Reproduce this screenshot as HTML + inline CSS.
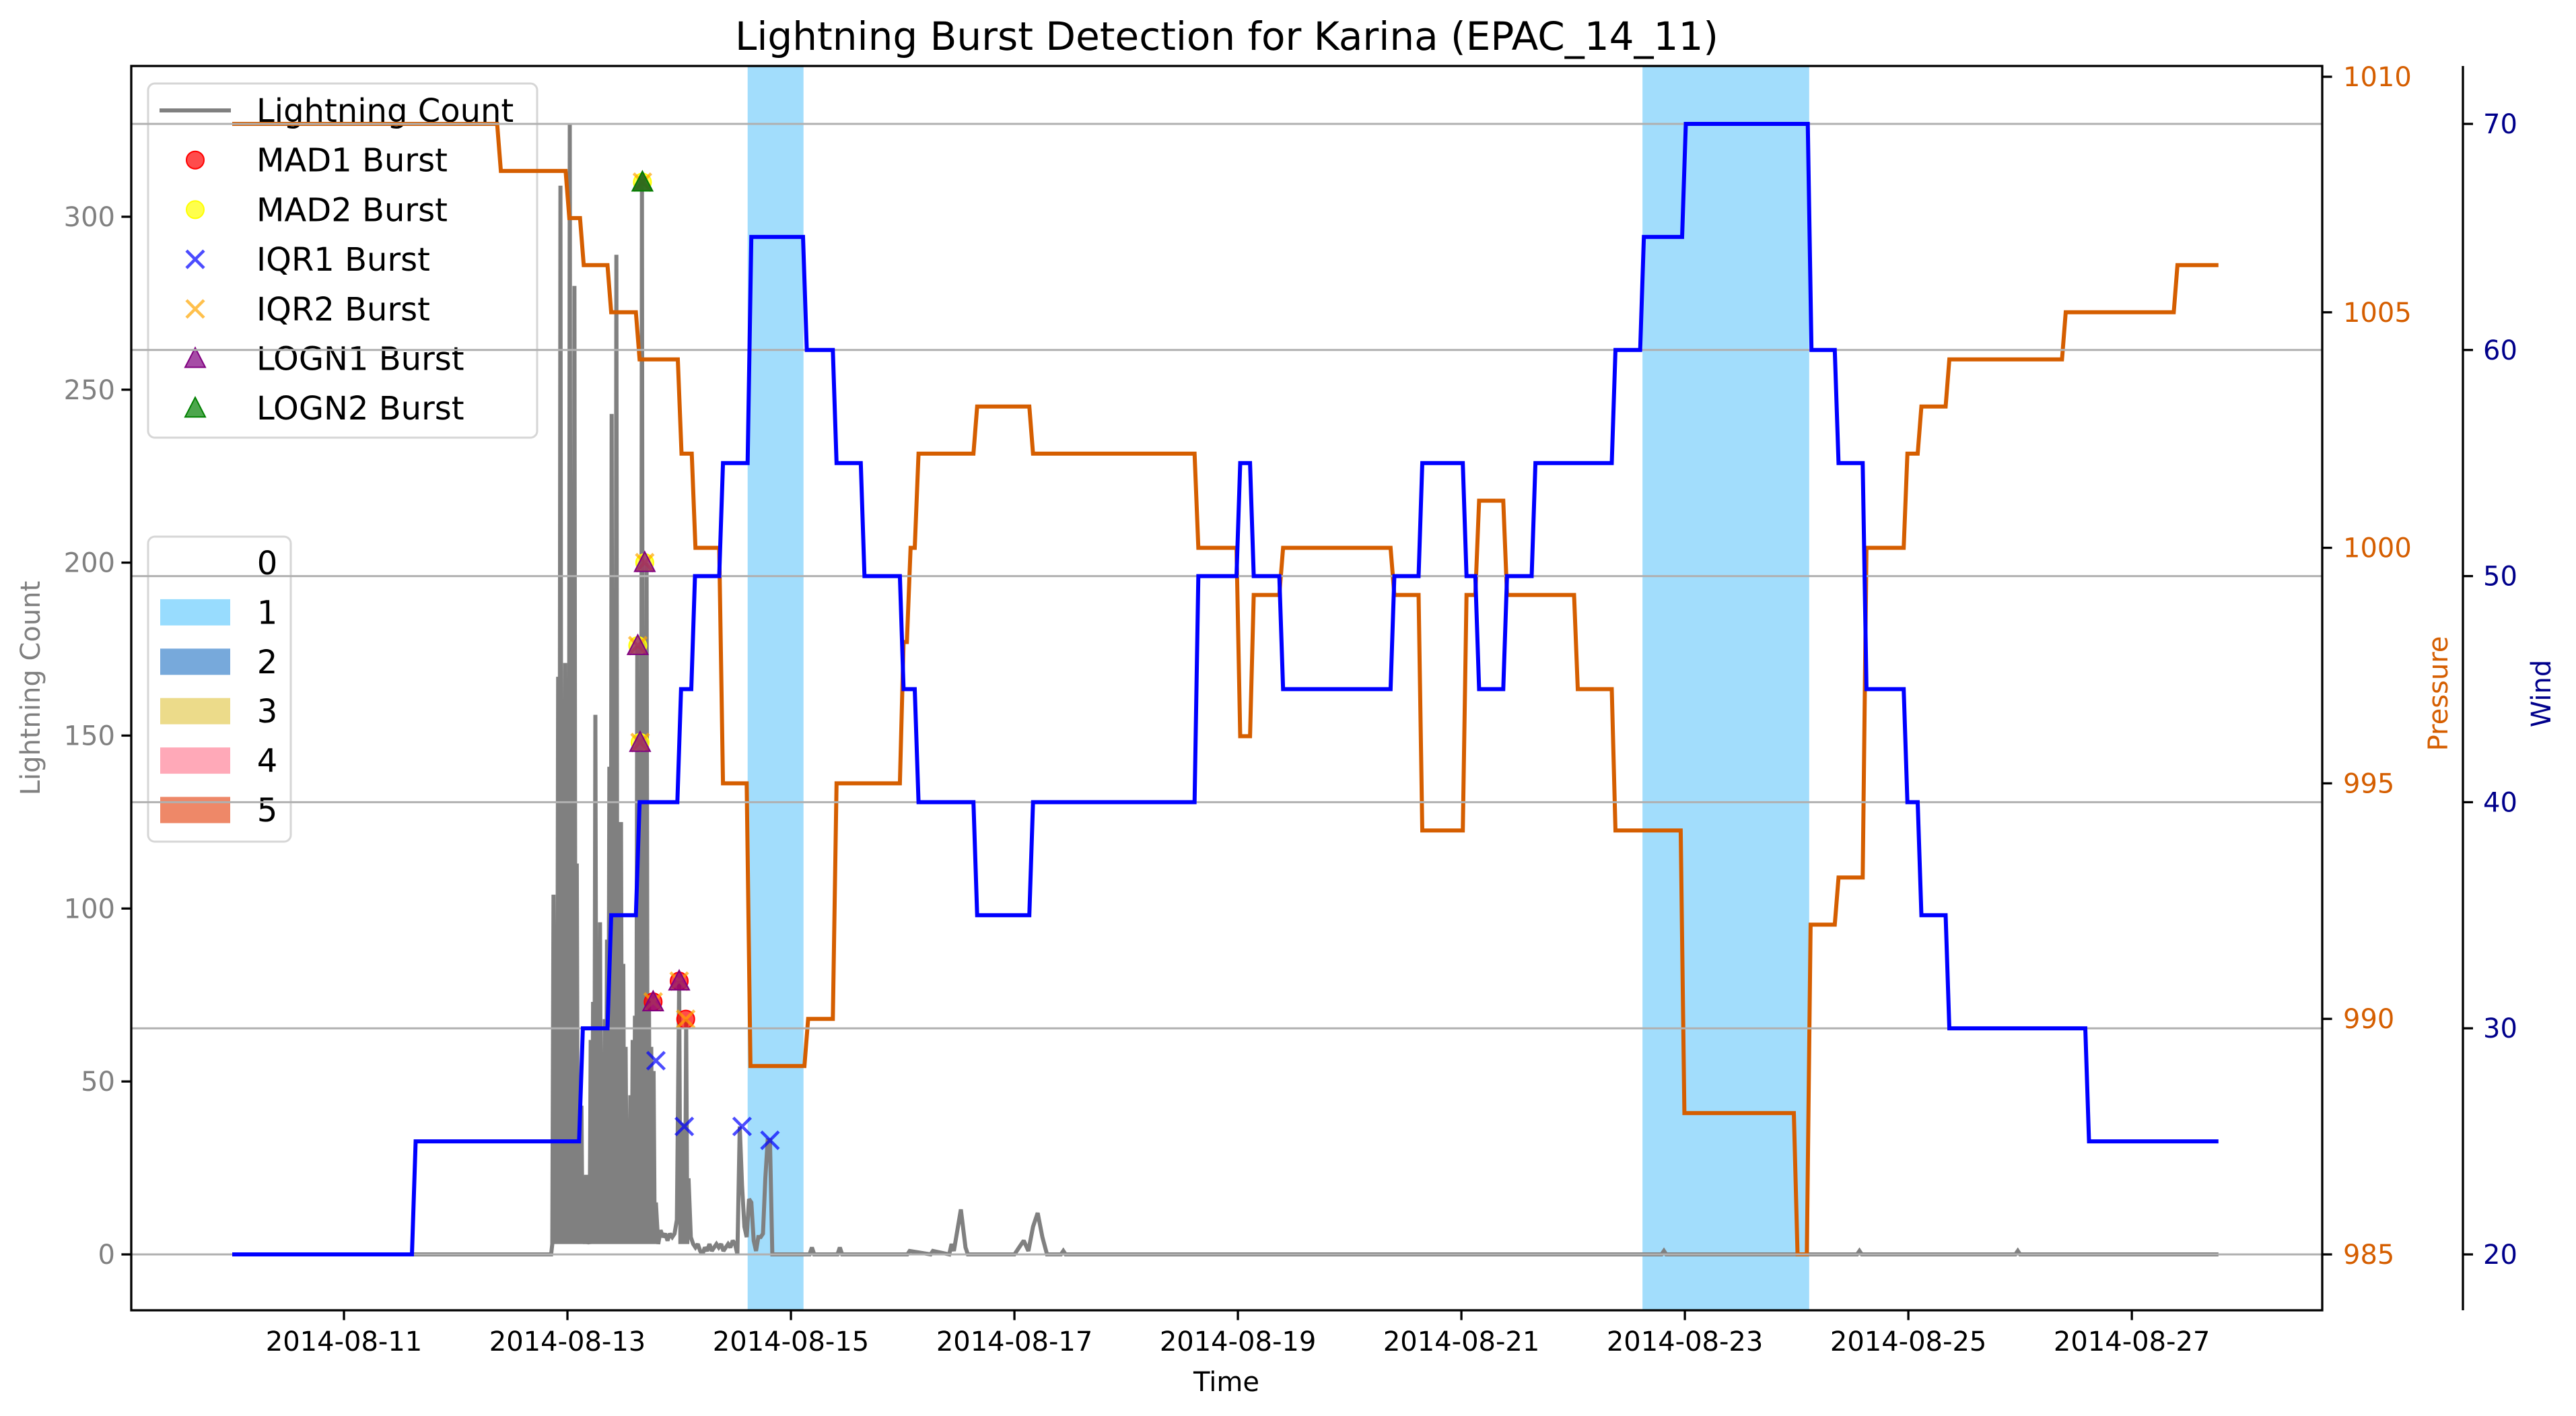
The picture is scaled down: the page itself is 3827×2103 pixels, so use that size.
<!DOCTYPE html>
<html><head><meta charset="utf-8">
<style>
html,body{margin:0;padding:0;background:#fff;}
svg{display:block;font-family:"DejaVu Sans","Liberation Sans",sans-serif;}
</style></head>
<body>
<svg id="chart" xmlns="http://www.w3.org/2000/svg" width="3827" height="2103" viewBox="0 0 3827 2103">
<rect x="0" y="0" width="3827" height="2103" fill="#fff"/>
<g id="spans"></g>
<g id="lightning"></g>
<g id="markers"></g>
<g id="legends"></g>
<g id="pressure"></g>
<g id="grid"></g>
<g id="wind"></g>
<g id="axes"></g>
</svg>
<script>
// ---- data (time in hours since 2014-08-10 00:00) ----
const windTimes = [0, 38.6, 74.5, 80.6, 86.7, 95.6, 98.6, 104.6, 110.7, 122.6, 129.0, 135.0, 143.4, 146.6, 159.2, 171.2, 206.7, 215.7, 218.6, 224.9, 248.8, 254.8, 264.3, 267.0, 273.0, 279.1, 296.3, 302.4, 311.4, 338.4, 344.2, 350.2, 359.0, 362.0, 368.0, 398.0];
const windValues = [20, 25, 30, 35, 40, 45, 50, 55, 65, 60, 55, 50, 45, 40, 35, 40, 50, 55, 50, 45, 50, 55, 50, 45, 50, 55, 60, 65, 70, 60, 55, 45, 40, 35, 30, 25];
const pressureTimes = [0, 56.9, 71.6, 74.7, 80.6, 86.7, 95.7, 98.7, 104.6, 110.5, 122.9, 129.0, 143.4, 144.9, 146.6, 159.2, 171.2, 206.7, 215.7, 218.6, 224.9, 248.8, 254.8, 264.3, 267.0, 273.0, 288.2, 296.3, 311.1, 335.4, 338.2, 344.2, 350.2, 359.0, 362.0, 368.0, 393.0, 417.0];
const pressureValues = [1009, 1008, 1007, 1006, 1005, 1004, 1002, 1000, 995, 989, 990, 995, 998, 1000, 1002, 1003, 1002, 1000, 996, 999, 1000, 999, 994, 999, 1001, 999, 997, 994, 988, 985, 992, 993, 1000, 1002, 1003, 1004, 1005, 1006];
const endTime = 426.6;
const lightningTimes = [0, 68.5, 68.75, 69, 69.25, 69.5, 69.75, 70, 70.25, 70.5, 70.75, 71, 71.25, 71.5, 71.75, 72, 72.25, 72.5, 72.75, 73, 73.25, 73.5, 73.75, 74, 74.25, 74.5, 74.75, 75, 75.25, 75.5, 75.75, 76, 76.25, 76.5, 76.75, 77, 77.25, 77.5, 77.75, 78, 78.25, 78.5, 78.75, 79, 79.25, 79.5, 79.75, 80, 80.25, 80.5, 80.75, 81, 81.25, 81.5, 81.75, 82, 82.25, 82.5, 82.75, 83, 83.25, 83.5, 83.75, 84, 84.25, 84.5, 84.75, 85, 85.25, 85.5, 85.75, 86, 86.25, 86.5, 86.75, 87, 87.25, 87.5, 87.75, 88, 88.25, 88.5, 88.75, 89, 89.25, 89.5, 89.75, 90, 90.25, 90.5, 90.75, 91, 91.5, 92, 92.5, 93, 93.5, 94, 94.5, 95, 95.5, 96, 96.25, 96.5, 96.75, 97, 97.25, 97.5, 97.75, 98, 98.5, 99, 99.5, 100, 100.5, 101, 101.5, 102, 102.5, 103, 103.5, 104, 104.5, 105, 105.5, 106, 106.5, 107, 107.5, 108, 108.5, 109, 109.5, 110, 110.5, 111, 111.5, 112, 112.5, 113, 113.5, 114, 114.5, 115, 115.5, 116, 124, 124.5, 125, 130, 130.5, 131, 145, 145.5, 150, 150.5, 154, 154.5, 155, 156.5, 157.5, 158, 168, 169, 170, 171, 172, 173, 174, 175, 178, 178.5, 179, 307, 307.5, 308, 349, 349.5, 350, 383, 383.5, 384, 426.6];
const lightningValues = [0, 0, 3, 104, 3, 60, 3, 167, 3, 309, 3, 100, 3, 171, 3, 150, 3, 327, 3, 180, 3, 280, 3, 113, 3, 40, 3, 43, 3, 15, 3, 23, 3, 5, 3, 62, 3, 73, 3, 156, 3, 60, 3, 96, 3, 40, 3, 68, 3, 91, 3, 141, 3, 243, 3, 150, 3, 289, 3, 120, 3, 125, 3, 84, 3, 60, 3, 37, 3, 46, 3, 62, 3, 69, 3, 176, 3, 148, 3, 310, 3, 120, 3, 200, 3, 74, 3, 60, 3, 53, 3, 15, 3, 7, 5, 6, 4, 6, 5, 6, 10, 79, 3, 38, 3, 25, 3, 68, 3, 22, 5, 3, 2, 3, 1, 0, 2, 1, 3, 1, 2, 3, 2, 3, 1, 2, 3, 2, 4, 3, 0, 37, 20, 8, 5, 16, 15, 4, 1, 5, 5, 6, 22, 33, 33, 0, 0, 2, 0, 0, 2, 0, 0, 1, 0, 1, 0, 3, 1, 13, 2, 0, 0, 2, 4, 1, 8, 12, 5, 0, 0, 1, 0, 0, 1, 0, 0, 1, 0, 0, 1, 0, 0];
const spanStarts = [110.7, 302.9];
const spanEnds = [122.7, 338.7];
const mad1Times = [90.4, 96.0, 97.4];
const mad1Values = [73, 79, 68];
const mad2Times = [88.1, 88.6, 87.1, 87.6];
const mad2Values = [310, 200, 176, 148];
const iqr1Times = [91.0, 97.1, 109.5, 115.5];
const iqr1Values = [56, 37, 37, 33];
const iqr2Times = [88.1, 88.6, 87.1, 87.6, 90.4, 96.0, 97.4];
const iqr2Values = [310, 200, 176, 148, 73, 79, 68];
const logn1Times = [88.1, 88.6, 87.1, 87.6, 90.4, 96.0];
const logn1Values = [310, 200, 176, 148, 73, 79];
const logn2Times = [88.1];
const logn2Values = [310];
const xTickDays = [11, 13, 15, 17, 19, 21, 23, 25, 27];
const leftTicks = [0, 50, 100, 150, 200, 250, 300];
const pressureTicks = [985, 990, 995, 1000, 1005, 1010];
const windTicks = [20, 30, 40, 50, 60, 70];
const spanLegendLabels = ['0', '1', '2', '3', '4', '5'];
const spanLegendColors = ['none', '#98dcfe', '#77a9db', '#ecdb8a', '#ffa9b8', '#ee8868'];

// ---- scales ----
const L = 195, R = 3450, T = 98, B = 1946;
function X(h) { return 345 + h * 6.917; }
function YL(v) { return 1863 - v * 5.137; }
function YP(p) { return 1863 - (p - 985) * 69.96; }
function YW(w) { return 1863 - (w - 20) * 33.58; }

const NS = 'http://www.w3.org/2000/svg';
function mk(tag, attrs, parent) {
  const e = document.createElementNS(NS, tag);
  for (const k in attrs) e.setAttribute(k, attrs[k]);
  parent.appendChild(e);
  return e;
}
const G = id => document.getElementById(id);

// spans
const gs = G('spans');
for (let i = 0; i < spanStarts.length; i++) {
  const r = mk('rect', {x: X(spanStarts[i]), y: T, width: X(spanEnds[i]) - X(spanStarts[i]), height: B - T, fill: '#a2ddfc'}, gs);
  
  
}

// lightning line
{
  let d = '';
  for (let i = 0; i < lightningTimes.length; i++) d += (i ? 'L' : 'M') + X(lightningTimes[i]).toFixed(1) + ' ' + YL(lightningValues[i]).toFixed(1);
  const p = mk('path', {d: d, fill: 'none', stroke: '#808080', 'stroke-width': 6, 'stroke-linejoin': 'miter', 'stroke-miterlimit': 2}, G('lightning'));
  
  
}

// step line helper
function stepPath(times, vals, yf) {
  let d = 'M' + X(times[0]).toFixed(1) + ' ' + yf(vals[0]).toFixed(1);
  for (let i = 1; i < times.length; i++) {
    d += 'L' + X(times[i]).toFixed(1) + ' ' + yf(vals[i - 1]).toFixed(1);
    d += 'L' + X(times[i] + 0.8).toFixed(1) + ' ' + yf(vals[i]).toFixed(1);
  }
  d += 'L' + X(endTime).toFixed(1) + ' ' + yf(vals[vals.length - 1]).toFixed(1);
  return d;
}
{
  const p = mk('path', {d: stepPath(pressureTimes, pressureValues, YP), fill: 'none', stroke: '#d55e00', 'stroke-width': 6}, G('pressure'));
  
  
  const w = mk('path', {d: stepPath(windTimes, windValues, YW), fill: 'none', stroke: '#0000ff', 'stroke-width': 6}, G('wind'));
  
  
}

// markers
function circ(parent, x, y, col) {
  return mk('circle', {cx: x, cy: y, r: 13, fill: col, 'fill-opacity': 0.7, stroke: col, 'stroke-width': 2}, parent);
}
function cross(parent, x, y, col) {
  return mk('path', {d: `M${x-13} ${y-13}L${x+13} ${y+13}M${x-13} ${y+13}L${x+13} ${y-13}`, stroke: col, 'stroke-opacity': 0.7, 'stroke-width': 4.5, fill: 'none'}, parent);
}
function tri(parent, x, y, col) {
  return mk('path', {d: `M${x} ${y-16}L${x+15} ${y+13}L${x-15} ${y+13}Z`, fill: col, 'fill-opacity': 0.7, stroke: col, 'stroke-width': 2}, parent);
}
const gm = G('markers');
for (let i = 0; i < mad1Times.length; i++) { const e = circ(gm, X(mad1Times[i]), YL(mad1Values[i]), '#ff0000');   }
for (let i = 0; i < mad2Times.length; i++) { const e = circ(gm, X(mad2Times[i]), YL(mad2Values[i]), '#ffff00');   }
for (let i = 0; i < iqr1Times.length; i++) { const e = cross(gm, X(iqr1Times[i]), YL(iqr1Values[i]), '#0000ff');   }
for (let i = 0; i < iqr2Times.length; i++) { const e = cross(gm, X(iqr2Times[i]), YL(iqr2Values[i]), '#ffa500');   }
for (let i = 0; i < logn1Times.length; i++) { const e = tri(gm, X(logn1Times[i]), YL(logn1Values[i]), '#800080');   }
for (let i = 0; i < logn2Times.length; i++) { const e = tri(gm, X(logn2Times[i]), YL(logn2Values[i]), '#008000');   }

// legends
const gl = G('legends');
{
  const box = mk('rect', {x: 220, y: 124, width: 578, height: 526, rx: 10, fill: '#fff', 'fill-opacity': 0.8, stroke: '#d6d6d6', 'stroke-width': 3}, gl);
  
  
  const names = ['Lightning Count', 'MAD1 Burst', 'MAD2 Burst', 'IQR1 Burst', 'IQR2 Burst', 'LOGN1 Burst', 'LOGN2 Burst'];
  for (let i = 0; i < names.length; i++) {
    const y = 164 + i * 73.7;
    let h;
    if (i === 0) h = mk('line', {x1: 237, x2: 343, y1: y, y2: y, stroke: '#808080', 'stroke-width': 6}, gl);
    else if (i === 1) h = circ(gl, 290, y, '#ff0000');
    else if (i === 2) h = circ(gl, 290, y, '#ffff00');
    else if (i === 3) h = cross(gl, 290, y, '#0000ff');
    else if (i === 4) h = cross(gl, 290, y, '#ffa500');
    else if (i === 5) h = tri(gl, 290, y, '#800080');
    else h = tri(gl, 290, y, '#008000');
    
    
    const t = mk('text', {x: 381, y: y + 17, 'font-size': 48, fill: '#000'}, gl);
    t.textContent = names[i];
    
    
  }
  const box2 = mk('rect', {x: 220, y: 797, width: 212, height: 453, rx: 10, fill: '#fff', 'fill-opacity': 0.8, stroke: '#d6d6d6', 'stroke-width': 3}, gl);
  
  
  for (let i = 0; i < spanLegendLabels.length; i++) {
    const y = 836 + i * 73.4;
    if (spanLegendColors[i] !== 'none') {
      const r = mk('rect', {x: 238, y: y - 19.5, width: 104, height: 39, fill: spanLegendColors[i]}, gl);
      
      
    }
    const t = mk('text', {x: 397, y: y + 17, 'font-size': 48, 'text-anchor': 'middle', fill: '#000'}, gl);
    t.textContent = spanLegendLabels[i];
    
    
  }
}

// grid (wind ticks)
const gg = G('grid');
for (const w of windTicks) {
  const l = mk('line', {x1: L, x2: R, y1: YW(w), y2: YW(w), stroke: '#b0b0b0', 'stroke-width': 3}, gg);
  
  
}

// axes
const ga = G('axes');
{
  const fr = mk('rect', {x: L, y: T, width: R - L, height: B - T, fill: 'none', stroke: '#000', 'stroke-width': 3.3}, ga);
  
  
  const ws = mk('line', {x1: 3659, x2: 3659, y1: T, y2: B, stroke: '#000', 'stroke-width': 3.3}, ga);
  
  
  for (const d of xTickDays) {
    const x = X((d - 10) * 24);
    mk('line', {x1: x, x2: x, y1: B, y2: B + 14.6, stroke: '#000', 'stroke-width': 3.3}, ga);
    const t = mk('text', {x: x, y: 2006, 'font-size': 40, 'text-anchor': 'middle', fill: '#000'}, ga);
    t.textContent = '2014-08-' + d;
    
    
  }
  for (const v of leftTicks) {
    const y = YL(v);
    mk('line', {x1: L - 14.6, x2: L, y1: y, y2: y, stroke: '#000', 'stroke-width': 3.3}, ga);
    const t = mk('text', {x: L - 24, y: y + 14, 'font-size': 40, 'text-anchor': 'end', fill: '#808080'}, ga);
    t.textContent = v;
    
    
  }
  for (const p of pressureTicks) {
    const y = YP(p);
    mk('line', {x1: R, x2: R + 14.6, y1: y, y2: y, stroke: '#000', 'stroke-width': 3.3}, ga);
    const t = mk('text', {x: 3481, y: y + 14, 'font-size': 40, fill: '#d55e00'}, ga);
    t.textContent = p;
    
    
  }
  for (const w of windTicks) {
    const y = YW(w);
    mk('line', {x1: 3659, x2: 3674, y1: y, y2: y, stroke: '#000', 'stroke-width': 3.3}, ga);
    const t = mk('text', {x: 3689, y: y + 14, 'font-size': 40, fill: '#00008b'}, ga);
    t.textContent = w;
    
    
  }
}
</script>
<div style="position:absolute;left:0;top:0;width:3827px;height:2103px;pointer-events:none;font-family:'DejaVu Sans','Liberation Sans',sans-serif;">
  <div style="position:absolute;left:0;width:3645px;top:20px;text-align:center;font-size:58px;color:#000;white-space:nowrap;">Lightning Burst Detection for Karina (EPAC_14_11)</div>
  <div style="position:absolute;left:1722px;width:200px;top:2030px;text-align:center;font-size:40px;color:#000;">Time</div>
  <div style="position:absolute;left:46px;top:1022px;transform:translate(-50%,-50%) rotate(-90deg);font-size:40px;color:#808080;white-space:nowrap;">Lightning Count</div>
  <div style="position:absolute;left:3623px;top:1030px;transform:translate(-50%,-50%) rotate(-90deg);font-size:40px;color:#d55e00;white-space:nowrap;">Pressure</div>
  <div style="position:absolute;left:3776px;top:1030px;transform:translate(-50%,-50%) rotate(-90deg);font-size:40px;color:#00008b;white-space:nowrap;">Wind</div>
</div>
</body></html>
